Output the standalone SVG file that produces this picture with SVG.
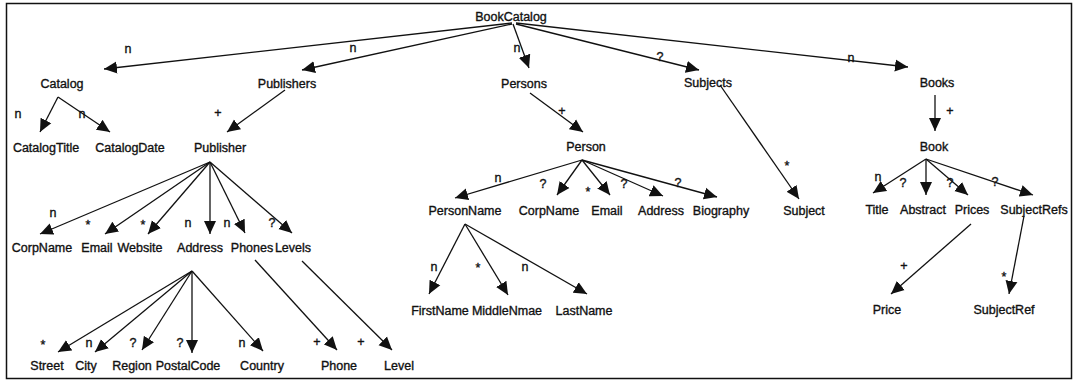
<svg xmlns="http://www.w3.org/2000/svg" width="1076" height="382" viewBox="0 0 1076 382">
<style>
.n text{font-family:"Liberation Sans",Arial,sans-serif;font-size:12.5px;fill:#111;stroke:#111;stroke-width:0.35;text-anchor:middle}
.lbl text{font-family:"Liberation Sans",Arial,sans-serif;font-size:12.5px;fill:#111;stroke:#111;stroke-width:0.35;text-anchor:middle}
.e line{stroke:#111;stroke-width:1.3;marker-end:url(#ah)}
</style>
<defs>
<marker id="ah" markerUnits="userSpaceOnUse" markerWidth="14" markerHeight="13" refX="13" refY="6" orient="auto" viewBox="0 0 14 12">
<path d="M0,0 L13,6 L0,12 z" fill="#111"/>
</marker>
</defs>
<rect x="6.5" y="3.5" width="1065" height="375" fill="#fff" stroke="#111" stroke-width="1.5"/>
<g id="connectors" class="e">
<line x1="512" y1="23" x2="104" y2="69"/>
<line x1="512" y1="24" x2="302" y2="70"/>
<line x1="513" y1="24" x2="529" y2="68"/>
<line x1="516" y1="24" x2="699" y2="70"/>
<line x1="516" y1="23" x2="908" y2="67"/>
<line x1="58" y1="97" x2="40" y2="132"/>
<line x1="58" y1="97" x2="110" y2="132"/>
<line x1="285" y1="90" x2="227" y2="132"/>
<line x1="530" y1="93" x2="583" y2="132"/>
<line x1="720" y1="85" x2="799" y2="199"/>
<line x1="935" y1="95" x2="935" y2="131"/>
<line x1="210" y1="162" x2="40" y2="234"/>
<line x1="210" y1="162" x2="105" y2="234"/>
<line x1="210" y1="162" x2="148" y2="234"/>
<line x1="210" y1="162" x2="210" y2="234"/>
<line x1="210" y1="162" x2="245" y2="233"/>
<line x1="210" y1="162" x2="292" y2="233"/>
<line x1="192" y1="271" x2="58" y2="352"/>
<line x1="192" y1="271" x2="95" y2="352"/>
<line x1="192" y1="271" x2="142" y2="350"/>
<line x1="192" y1="271" x2="192" y2="353"/>
<line x1="192" y1="271" x2="263" y2="351"/>
<line x1="255" y1="260" x2="337" y2="350"/>
<line x1="302" y1="261" x2="392" y2="350"/>
<line x1="582" y1="160" x2="455" y2="198"/>
<line x1="582" y1="160" x2="557" y2="195"/>
<line x1="582" y1="160" x2="610" y2="195"/>
<line x1="582" y1="160" x2="663" y2="196"/>
<line x1="582" y1="160" x2="717" y2="197"/>
<line x1="465" y1="224" x2="429" y2="294"/>
<line x1="465" y1="224" x2="508" y2="295"/>
<line x1="465" y1="224" x2="587" y2="294"/>
<line x1="926" y1="159" x2="873" y2="193"/>
<line x1="926" y1="159" x2="926" y2="195"/>
<line x1="926" y1="159" x2="968" y2="195"/>
<line x1="926" y1="159" x2="1033" y2="195"/>
<line x1="971" y1="224" x2="891" y2="294"/>
<line x1="1024" y1="216" x2="1009" y2="294"/>
</g>
<g id="labels" class="lbl">
<text x="128" y="53">n</text>
<text x="353" y="52">n</text>
<text x="517" y="52">n</text>
<text x="660" y="61">?</text>
<text x="851" y="62">n</text>
<text x="18" y="118">n</text>
<text x="82" y="118">n</text>
<text x="218" y="117">+</text>
<text x="562" y="115">+</text>
<text x="787" y="170">*</text>
<text x="950" y="115">+</text>
<text x="53" y="217">n</text>
<text x="88" y="229">*</text>
<text x="143" y="229">*</text>
<text x="188" y="227">n</text>
<text x="227" y="227">n</text>
<text x="272" y="227">?</text>
<text x="43" y="349">*</text>
<text x="89" y="347">n</text>
<text x="133" y="347">?</text>
<text x="180" y="347">?</text>
<text x="242" y="347">n</text>
<text x="317" y="346">+</text>
<text x="361" y="346">+</text>
<text x="498" y="182">n</text>
<text x="543" y="188">?</text>
<text x="588" y="196">*</text>
<text x="624" y="188">?</text>
<text x="678" y="187">?</text>
<text x="434" y="271">n</text>
<text x="478" y="272">*</text>
<text x="525" y="271">n</text>
<text x="878" y="181">n</text>
<text x="903" y="187">?</text>
<text x="950" y="187">?</text>
<text x="995" y="186">?</text>
<text x="904" y="270">+</text>
<text x="1004" y="281">*</text>
</g>
<g id="BookCatalog" class="n"><text x="511" y="21">BookCatalog</text></g>
<g id="Catalog" class="n"><text x="62" y="88">Catalog</text></g>
<g id="Publishers" class="n"><text x="287" y="88">Publishers</text></g>
<g id="Persons" class="n"><text x="524" y="88">Persons</text></g>
<g id="Subjects" class="n"><text x="708" y="87">Subjects</text></g>
<g id="Books" class="n"><text x="937" y="87">Books</text></g>
<g id="CatalogTitle" class="n"><text x="46" y="152">CatalogTitle</text></g>
<g id="CatalogDate" class="n"><text x="130" y="152">CatalogDate</text></g>
<g id="Publisher" class="n"><text x="220" y="152">Publisher</text></g>
<g id="Person" class="n"><text x="586" y="151">Person</text></g>
<g id="Book" class="n"><text x="934" y="151">Book</text></g>
<g id="PubCorpName" class="n"><text x="42" y="252">CorpName</text></g>
<g id="PubEmail" class="n"><text x="97" y="252">Email</text></g>
<g id="Website" class="n"><text x="140" y="252">Website</text></g>
<g id="PubAddress" class="n"><text x="200" y="252">Address</text></g>
<g id="Phones" class="n"><text x="252" y="252">Phones</text></g>
<g id="Levels" class="n"><text x="293" y="252">Levels</text></g>
<g id="Street" class="n"><text x="47" y="370">Street</text></g>
<g id="City" class="n"><text x="86" y="370">City</text></g>
<g id="Region" class="n"><text x="132" y="370">Region</text></g>
<g id="PostalCode" class="n"><text x="188" y="370">PostalCode</text></g>
<g id="Country" class="n"><text x="262" y="370">Country</text></g>
<g id="Phone" class="n"><text x="339" y="370">Phone</text></g>
<g id="Level" class="n"><text x="399" y="370">Level</text></g>
<g id="PersonName" class="n"><text x="465" y="215">PersonName</text></g>
<g id="PerCorpName" class="n"><text x="549" y="215">CorpName</text></g>
<g id="PerEmail" class="n"><text x="607" y="215">Email</text></g>
<g id="PerAddress" class="n"><text x="661" y="215">Address</text></g>
<g id="Biography" class="n"><text x="721" y="215">Biography</text></g>
<g id="Subject" class="n"><text x="804" y="215">Subject</text></g>
<g id="Title" class="n"><text x="877" y="214">Title</text></g>
<g id="Abstract" class="n"><text x="923" y="214">Abstract</text></g>
<g id="Prices" class="n"><text x="972" y="214">Prices</text></g>
<g id="SubjectRefs" class="n"><text x="1034" y="214">SubjectRefs</text></g>
<g id="FirstName" class="n"><text x="440" y="315">FirstName</text></g>
<g id="MiddleNmae" class="n"><text x="507" y="315">MiddleNmae</text></g>
<g id="LastName" class="n"><text x="584" y="315">LastName</text></g>
<g id="Price" class="n"><text x="887" y="314">Price</text></g>
<g id="SubjectRef" class="n"><text x="1004" y="314">SubjectRef</text></g>
</svg>
